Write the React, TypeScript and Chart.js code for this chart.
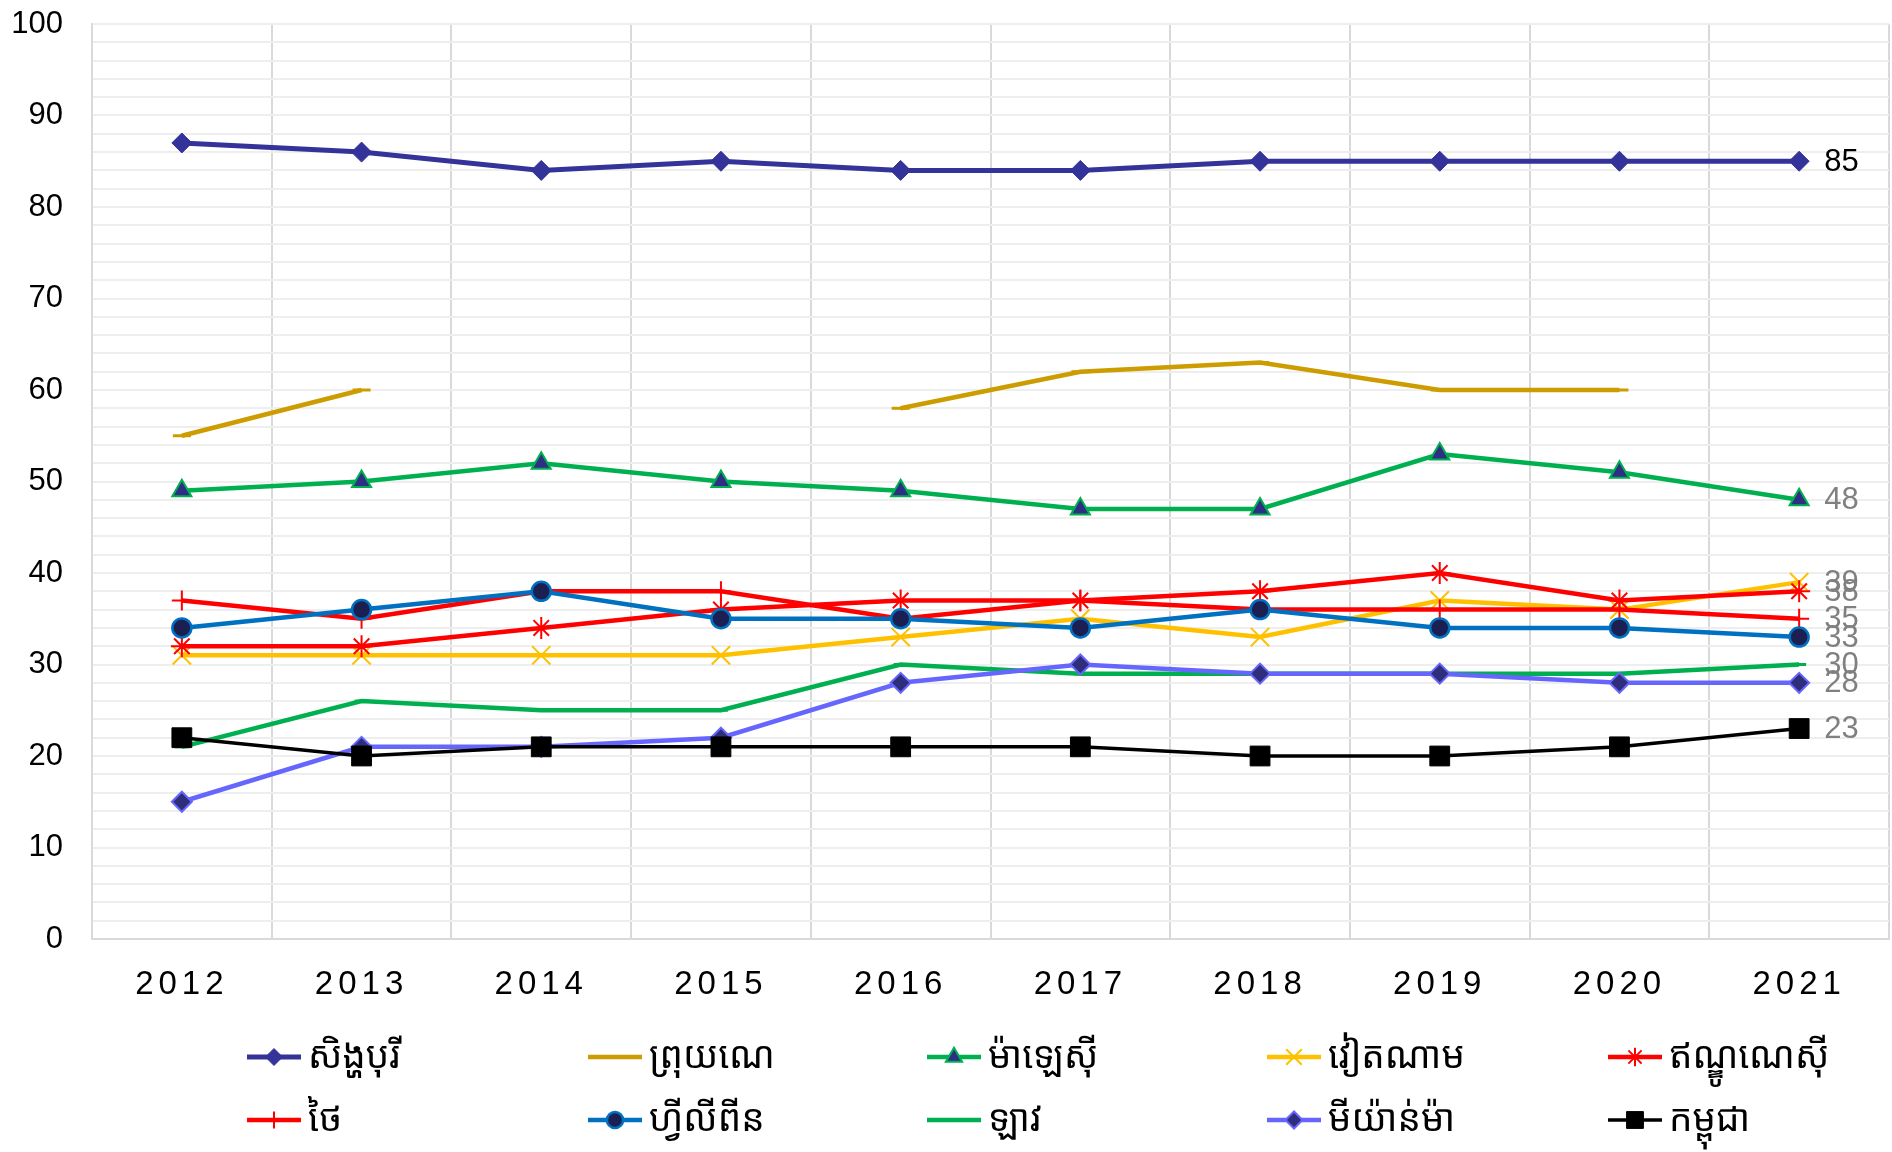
import React, { useEffect, useRef } from 'react';
import { Chart, registerables } from 'chart.js';
import { drawPoint } from 'chart.js/helpers';

Chart.register(...registerables);

// ---------- data ----------
const years = ['2012', '2013', '2014', '2015', '2016', '2017', '2018', '2019', '2020', '2021'];

const seriesNames = [
  'សិង្ហបុរី',
  'ព្រុយណេ',
  'ម៉ាឡេស៊ី',
  'វៀតណាម',
  'ឥណ្ឌូណេស៊ី',
  'ថៃ',
  'ហ្វីលីពីន',
  'ឡាវ',
  'មីយ៉ាន់ម៉ា',
  'កម្ពុជា',
];

const singapore = [87, 86, 84, 85, 84, 84, 85, 85, 85, 85];
const brunei = [55, 60, null, null, 58, 62, 63, 60, 60, null];
const malaysia = [49, 50, 52, 50, 49, 47, 47, 53, 51, 48];
const vietnam = [31, 31, 31, 31, 33, 35, 33, 37, 36, 39];
const indonesia = [32, 32, 34, 36, 37, 37, 38, 40, 37, 38];
const thailand = [37, 35, 38, 38, 35, 37, 36, 36, 36, 35];
const philippines = [34, 36, 38, 35, 35, 34, 36, 34, 34, 33];
const laos = [21, 26, 25, 25, 30, 29, 29, 29, 29, 30];
const myanmar = [15, 21, 21, 22, 28, 30, 29, 29, 28, 28];
const cambodia = [22, 20, 21, 21, 21, 21, 20, 20, 21, 23];

const yMin = 0;
const yMax = 100;
const yGridStep = 2;
const yLabelStep = 10;

// ---------- styles ----------
const NUM_FONT = '"Liberation Sans", Arial, sans-serif';
const KHMER_FONT = '"Noto Sans Khmer", "Khmer OS", "Khmer OS System", "Leelawadee UI", "DaunPenh", "Noto Sans", sans-serif';

type Style = {
  line: string;
  width: number;
  point: string;
  radius: number;
  fill: string;
  border: string;
  bw: number;
};

const styles: Style[] = [
  { line: '#333399', width: 5, point: 'rectRot', radius: 10, fill: '#333399', border: '#333399', bw: 1 },
  { line: '#CC9C00', width: 4.5, point: 'line', radius: 9, fill: '#CC9C00', border: '#CC9C00', bw: 3 },
  { line: '#00B050', width: 4.5, point: 'triangle', radius: 11, fill: '#2E2E85', border: '#00B050', bw: 2 },
  { line: '#FFC000', width: 4.5, point: 'crossRot', radius: 13, fill: '#FFC000', border: '#FFC000', bw: 2 },
  { line: '#FF0000', width: 4.5, point: 'star', radius: 11, fill: '#FF0000', border: '#FF0000', bw: 2 },
  { line: '#FF0000', width: 4.5, point: 'cross', radius: 10, fill: '#FF0000', border: '#FF0000', bw: 2 },
  { line: '#0070C0', width: 4.5, point: 'circle', radius: 9.5, fill: '#1B1F52', border: '#0070C0', bw: 2.5 },
  { line: '#00B050', width: 4.5, point: 'line', radius: 7, fill: '#00B050', border: '#00B050', bw: 3 },
  { line: '#6666FF', width: 4.5, point: 'rectRot', radius: 10, fill: '#2E2E7A', border: '#6666FF', bw: 2 },
  { line: '#000000', width: 3.5, point: 'rect', radius: 14, fill: '#000000', border: '#000000', bw: 1 },
];

const seriesData = [singapore, brunei, malaysia, vietnam, indonesia, thailand, philippines, laos, myanmar, cambodia];

const lastLabelPlugin = {
  id: 'lastLabels',
  afterDatasetsDraw(chart: any) {
    const ctx = chart.ctx;
    ctx.save();
    ctx.font = `31px ${NUM_FONT}`;
    ctx.textAlign = 'left';
    ctx.textBaseline = 'middle';
    chart.data.datasets.forEach((ds: any, i: number) => {
      const last = ds.data.length - 1;
      const v = ds.data[last];
      if (v === null || v === undefined) return;
      const el = chart.getDatasetMeta(i).data[last];
      ctx.fillStyle = i === 0 ? '#000000' : '#808080';
      ctx.fillText(String(v), el.x + 25, el.y + 1);
    });
    ctx.restore();
    // letter spacing for the x tick labels (drawn after datasets, z = 1)
    ctx.letterSpacing = '5px';
  },
  afterDraw(chart: any) {
    chart.ctx.letterSpacing = '0px';
  },
};

const gridLegendPlugin = {
  id: 'gridLegend',
  afterDraw(chart: any) {
    const ctx = chart.ctx;
    ctx.save();
    ctx.letterSpacing = '0px';
    const colX = [247, 588, 927, 1267, 1608];
    const rowY = [1057, 1120];
    chart.data.datasets.forEach((ds: any, i: number) => {
      const st = styles[i];
      const x0 = colX[i % 5];
      const y = rowY[Math.floor(i / 5)];
      ctx.strokeStyle = st.line;
      ctx.lineWidth = st.width;
      ctx.beginPath();
      ctx.moveTo(x0, y);
      ctx.lineTo(x0 + 54, y);
      ctx.stroke();
      ctx.fillStyle = st.fill;
      ctx.strokeStyle = st.border;
      ctx.lineWidth = st.bw;
      drawPoint(ctx, { pointStyle: st.point, radius: st.radius * 0.85, rotation: 0, borderWidth: st.bw } as any, x0 + 27, y);
      ctx.fillStyle = '#000000';
      ctx.font = `37px ${KHMER_FONT}`;
      ctx.textAlign = 'left';
      ctx.textBaseline = 'middle';
      ctx.fillText(ds.label, x0 + 61, y);
    });
    ctx.restore();
  },
};

export default function App() {
  const ref = useRef<HTMLCanvasElement | null>(null);

  useEffect(() => {
    if (!ref.current) return;
    const datasets = seriesData.map((d, i) => {
      const st = styles[i];
      return {
        label: seriesNames[i],
        data: d,
        borderColor: st.line,
        backgroundColor: st.line,
        borderWidth: st.width,
        pointStyle: st.point,
        pointRadius: st.radius,
        pointHoverRadius: st.radius,
        pointBackgroundColor: st.fill,
        pointBorderColor: st.border,
        pointBorderWidth: st.bw,
        tension: 0,
        spanGaps: false,
        fill: false,
        order: 20 - i,
      };
    });

    const chart = new Chart(ref.current, {
      type: 'line',
      data: { labels: years, datasets: datasets as any },
      options: {
        animation: false,
        responsive: false,
        devicePixelRatio: 1,
        layout: { autoPadding: false, padding: { top: 24, right: 3, left: 0, bottom: 0 } },
        plugins: {
          legend: { display: false },
          tooltip: { enabled: false },
        },
        scales: {
          x: {
            type: 'category',
            offset: true,
            grid: { offset: true, color: '#d9d9d9', lineWidth: 2, drawTicks: false },
            border: { color: '#d9d9d9', width: 2 },
            ticks: {
              color: '#000000',
              font: { family: NUM_FONT, size: 33 },
              padding: 26,
              maxRotation: 0,
              autoSkip: false,
              z: 1,
            },
            afterFit: (s: any) => {
              s.height = 213;
              s.paddingLeft = 0;
              s.paddingRight = 0;
            },
          },
          y: {
            type: 'linear',
            min: yMin,
            max: yMax,
            grid: { color: '#eeeeee', lineWidth: 2, drawTicks: false },
            border: { color: '#d9d9d9', width: 2 },
            ticks: {
              stepSize: yGridStep,
              maxTicksLimit: 200,
              autoSkip: false,
              color: '#000000',
              font: { family: NUM_FONT, size: 31 },
              padding: 29,
              callback: (v: any) => (Number(v) % yLabelStep === 0 ? String(v) : ''),
            },
            afterFit: (s: any) => {
              s.width = 92;
              s.paddingTop = 0;
              s.paddingBottom = 0;
            },
          },
        },
      },
      plugins: [lastLabelPlugin, gridLegendPlugin],
    });
    return () => chart.destroy();
  }, []);

  return (
    <div style={{ position: 'fixed', left: 0, top: 0, width: 1892, height: 1152, background: '#ffffff' }}>
      <canvas ref={ref} width={1892} height={1152} style={{ display: 'block' }} />
    </div>
  );
}
